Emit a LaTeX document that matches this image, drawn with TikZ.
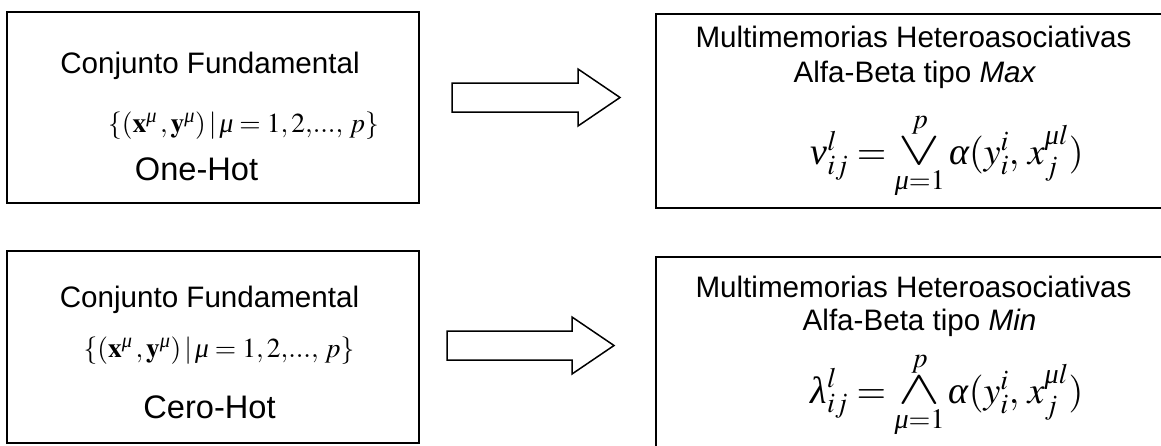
\documentclass[tikz,border=0pt]{standalone}
\usepackage{amsmath}
\usepackage{graphicx}
\usepackage{mathptmx}
\usepackage[no-math]{fontspec}
\setmainfont{Liberation Sans}
\newfontfamily\tmsfam{Liberation Serif}
\newcommand{\gmu}{\text{\tmsfam\itshape μ}}
\newcommand{\gnu}{\text{\tmsfam\itshape ν}}
\newcommand{\glam}{\text{\tmsfam\itshape λ}}
\newcommand{\galp}{\text{\tmsfam\itshape α}}
\newcommand{\bigv}{\mathop{\hbox{\scalebox{1.65}[1.25]{$\vee$}}}}
\newcommand{\bigw}{\mathop{\hbox{\scalebox{1.65}[1.25]{$\wedge$}}}}
\begin{document}
\begin{tikzpicture}[x=1pt,y=-1pt,
  box/.style={draw, line width=1.5pt, rectangle, inner sep=0pt, outer sep=0pt},
  lbl/.style={anchor=base, inner sep=0pt, font=\fontsize{29.6}{35}\selectfont},
  hot/.style={anchor=base, inner sep=0pt, font=\fontsize{32.6}{38}\selectfont},
  setf/.style={anchor=base, inner sep=0pt, font=\fontsize{27.5}{32}\selectfont},
  memf/.style={anchor=base, inner sep=0pt, font=\fontsize{38}{44}\selectfont},
  blockarrow/.style={draw, line width=1.5pt, fill=white, line join=miter}]
\clip (0,0) rectangle (1161,445);
\fill[white] (0,0) rectangle (1161,445);
% boxes
\node[box, minimum width=412pt, minimum height=191pt] (b1) at (213,107.5) {};
\node[box, minimum width=412pt, minimum height=192pt] (b3) at (213,347) {};
\node[box, minimum width=515pt, minimum height=194pt] (b2) at (913.5,111) {};
\node[box, minimum width=515pt, minimum height=200pt] (b4) at (913.5,357) {};
% top-left texts
\node[lbl] (t1a) at (210,73) {Conjunto Fundamental};
\node[setf] (t1b) at (243.5,132) {$\{(\mathbf{x}^{\gmu}\,,\mathbf{y}^{\gmu})\,|\,\gmu=1,2{,}...,\,p\}$};
\node[hot] (t1c) at (196.5,180) {One-Hot};
% bottom-left texts
\node[lbl] (t3a) at (209.5,307) {Conjunto Fundamental};
\node[setf] (t3b) at (219,357) {$\{(\mathbf{x}^{\gmu}\,,\mathbf{y}^{\gmu})\,|\,\gmu=1,2{,}...,\,p\}$};
\node[hot] (t3c) at (209.5,418) {Cero-Hot};
% top-right texts
\node[lbl] (t2a) at (913.5,47) {Multimemorias Heteroasociativas};
\node[lbl] (t2b) at (915,82) {Alfa-Beta tipo \textit{Max}};
\node[memf] (t2c) at (947,164) {$\gnu_{ij}^{l}=\bigv\limits_{\gmu=1}^{p}\galp(y_i^{i},\,x_j^{\gmu l})$};
% bottom-right texts
\node[lbl] (t4a) at (913.5,297) {Multimemorias Heteroasociativas};
\node[lbl] (t4b) at (919.5,330) {Alfa-Beta tipo \textit{Min}};
\node[memf] (t4c) at (947,403) {$\glam_{ij}^{l}=\bigw\limits_{\gmu=1}^{p}\galp(y_i^{i},\,x_j^{\gmu l})$};
% block arrows
\coordinate (a1) at (452,97.5);
\coordinate (a2) at (447,345.5);
\draw[blockarrow] (a1) ++(0,-14.5) -- ++(126,0) -- ++(0,-14) -- ++(42,28.5) -- ++(-42,28.5) -- ++(0,-14) -- ++(-126,0) -- cycle;
\draw[blockarrow] (a2) ++(0,-14.5) -- ++(125,0) -- ++(0,-14) -- ++(42,28.5) -- ++(-42,28.5) -- ++(0,-14) -- ++(-125,0) -- cycle;
\end{tikzpicture}
\end{document}
